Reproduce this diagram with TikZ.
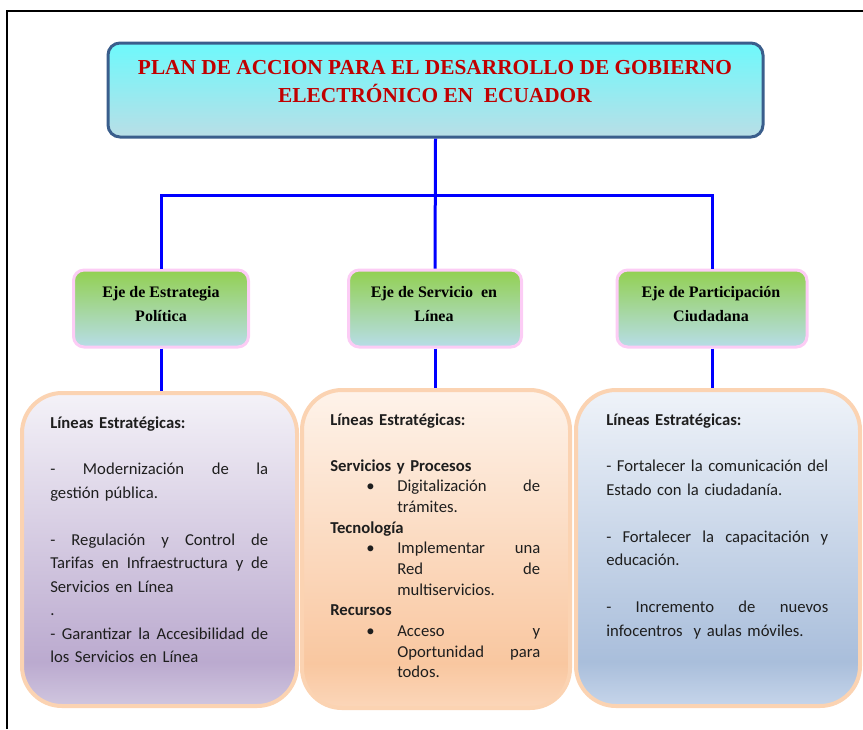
\documentclass[tikz,border=0pt]{standalone}
\usepackage{fontspec}
\setmainfont{Carlito}
\newfontfamily\titleserif{Liberation Serif}

\definecolor{titleborder}{HTML}{3A5E8C}
\definecolor{titletop}{HTML}{6EF9FC}
\definecolor{titlebot}{HTML}{B9DEE6}
\definecolor{titlered}{HTML}{C00000}
\definecolor{linkblue}{HTML}{0000FF}
\definecolor{ejeborder}{HTML}{FCCCF5}
\definecolor{ejetop}{HTML}{92D050}
\definecolor{ejebot}{HTML}{B7DDE8}
\definecolor{lineborder}{HTML}{FBD3B2}
\definecolor{bodygray}{HTML}{1E1E1E}
\definecolor{lavT}{HTML}{F4F2F8}
\definecolor{lavM}{HTML}{BBAACF}
\definecolor{lavB}{HTML}{D0C6DF}
\definecolor{peachT}{HTML}{FEF3EA}
\definecolor{peachM}{HTML}{F9C7A0}
\definecolor{peachB}{HTML}{FBD6B9}
\definecolor{blueT}{HTML}{EFF3F9}
\definecolor{blueM}{HTML}{A9BEDB}
\definecolor{blueB}{HTML}{C6D5EA}

% vertical fills: 25bp = bottom of the path, 75bp = top
\pgfdeclareverticalshading{lavfill}{100bp}{color(0bp)=(lavB); color(25bp)=(lavB); color(32bp)=(lavM); color(75bp)=(lavT); color(100bp)=(lavT)}
\pgfdeclareverticalshading{peachfill}{100bp}{color(0bp)=(peachB); color(25bp)=(peachB); color(32bp)=(peachM); color(75bp)=(peachT); color(100bp)=(peachT)}
\pgfdeclareverticalshading{bluefill}{100bp}{color(0bp)=(blueB); color(25bp)=(blueB); color(32bp)=(blueM); color(75bp)=(blueT); color(100bp)=(blueT)}

% justified line of a given width (words separated by \hfill)
\newcommand\jline[2]{\leavevmode\hbox to #1{#2}}

\begin{document}
\begin{tikzpicture}[x=0.75pt,y=-0.75pt,
  titlebox/.style={draw=titleborder, line width=2.25pt, rounded corners=9pt,
    top color=titletop, bottom color=titlebot, inner sep=0pt},
  ejebox/.style={draw=ejeborder, line width=2.25pt, rounded corners=8pt,
    top color=ejetop, bottom color=ejebot, inner sep=0pt, minimum height=57.75pt},
  linesbox/.style={draw=lineborder, line width=3pt, rounded corners=30pt, inner sep=0pt},
  link/.style={draw=linkblue, line width=2.25pt},
  ejetext/.style={font=\titleserif\bfseries\fontsize{12}{18}\selectfont, align=center, text=black, inner sep=0pt},
  bodytext/.style={anchor=base west, inner sep=0pt, align=left, text=bodygray},
]
\useasboundingbox (0,0) rectangle (863,729);

% outer frame
\draw[line width=1.5pt] (7,729) -- (7,11) -- (863,11);

% title
\node[titlebox, minimum width=491.25pt, minimum height=70.5pt] (plan) at (435.5,90) {};
\node[font=\titleserif\bfseries\fontsize{16}{21}\selectfont, text=titlered, align=center, inner sep=0pt]
  (plantxt) at (435,82) {PLAN DE ACCION PARA EL DESARROLLO DE GOBIERNO\\ELECTRÓNICO EN \ ECUADOR};

% axes
\node[ejebox, minimum width=131.25pt] (eje1) at (161,308.5) {};
\node[ejebox, minimum width=129.75pt] (eje2) at (435,308.5) {};
\node[ejebox, minimum width=142.5pt] (eje3) at (712,308.5) {};
\node[ejetext] (eje1txt) at (161,304) {Eje de Estrategia\\Política};
\node[ejetext] (eje2txt) at (434,304) {Eje de Servicio \ en\\Línea};
\node[ejetext] (eje3txt) at (711,304) {Eje de Participación\\Ciudadana};

% strategic lines boxes
\node[linesbox, shading=lavfill, minimum width=206.25pt, minimum height=234.75pt] (lin1) at (159.5,549.5) {};
\node[linesbox, shading=peachfill, minimum width=201pt, minimum height=238.5pt] (lin2) at (436,549) {};
\node[linesbox, shading=bluefill, minimum width=213pt, minimum height=237pt] (lin3) at (718,548) {};

% connectors
\coordinate (bus) at (435,195);
\draw[link] (plan.south) -- (eje2.north);
\draw[link] (eje1.north) -- (eje1.north |- bus) -- (eje3.north |- bus) -- (eje3.north);
\draw[link] (eje1.south) -- (eje1.south |- lin1.north);
\draw[link] (eje2.south) -- (eje2.south |- lin2.north);
\draw[link] (eje3.south) -- (eje3.south |- lin3.north);

% texts of the strategic lines
\node[bodytext, text width=163.5pt, font=\fontsize{12.5}{17.6}\selectfont] (lin1txt) at (50,428) {%
\textbf{Líneas Estratégicas:}\\
\mbox{}\\
\jline{163.5pt}{-\hfill Modernización\hfill de\hfill la}\\
gestión pública.\\
\mbox{}\\
\jline{163.5pt}{-\hfill Regulación\hfill y\hfill Control\hfill de}\\
\jline{163.5pt}{Tarifas\hfill en\hfill Infraestructura\hfill y\hfill de}\\
Servicios en Línea\\
.\\
\jline{163.5pt}{-\hfill Garantizar\hfill la\hfill Accesibilidad\hfill de}\\
los Servicios en Línea};

\node[bodytext, text width=157.5pt, font=\fontsize{12.5}{15.5}\selectfont] (lin2txt) at (330,425) {%
\textbf{Líneas Estratégicas:}\\[19pt]
\textbf{Servicios y Procesos}\\
\hspace*{27pt}\makebox[23.25pt][l]{\textbullet}\jline{107.25pt}{Digitalización\hfill de}\\
\hspace*{50.25pt}trámites.\\
\textbf{Tecnología}\\
\hspace*{27pt}\makebox[23.25pt][l]{\textbullet}\jline{107.25pt}{Implementar\hfill una}\\
\hspace*{50.25pt}\jline{107.25pt}{Red\hfill de}\\
\hspace*{50.25pt}multiservicios.\\
\textbf{Recursos}\\
\hspace*{27pt}\makebox[23.25pt][l]{\textbullet}\jline{107.25pt}{Acceso\hfill y}\\
\hspace*{50.25pt}\jline{107.25pt}{Oportunidad\hfill para}\\
\hspace*{50.25pt}todos.};

\node[bodytext, text width=166.5pt, font=\fontsize{12.5}{17.6}\selectfont] (lin3txt) at (606,425) {%
\textbf{Líneas Estratégicas:}\\
\mbox{}\\
\jline{166.5pt}{-\hfill Fortalecer\hfill la\hfill comunicación\hfill del}\\
Estado con la ciudadanía.\\
\mbox{}\\
\jline{166.5pt}{-\hfill Fortalecer\hfill la\hfill capacitación\hfill y}\\
educación.\\
\mbox{}\\
\jline{166.5pt}{-\hfill Incremento\hfill de\hfill nuevos}\\
infocentros \ y aulas móviles.};
\end{tikzpicture}
\end{document}
